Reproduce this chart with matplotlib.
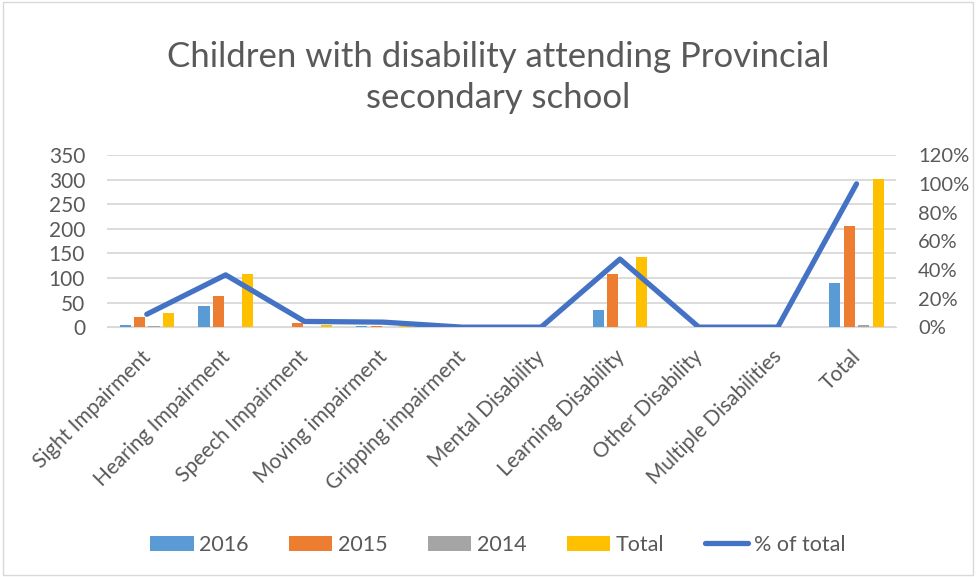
import matplotlib.pyplot as plt
import numpy as np
from matplotlib.patches import Rectangle
from matplotlib.ticker import PercentFormatter
from matplotlib.transforms import ScaledTranslation

plt.rcParams['font.family'] = ['Lato', 'DejaVu Sans']

categories = ['Sight Impairment', 'Hearing Impairment', 'Speech Impairment',
              'Moving impairment', 'Gripping impairment', 'Mental Disability',
              'Learning Disability', 'Other Disability', 'Multiple Disabilities', 'Total']
y2016 = [5, 44, 1, 2, 0, 0, 34, 0, 0, 90]
y2015 = [21, 64, 9, 2, 0, 0, 108, 0, 0, 205]
y2014 = [2, 0, 0, 0, 0, 0, 0, 0, 0, 5]
total = [28, 108, 5, 3, 0, 0, 143, 0, 0, 302]
pct = [0.09, 0.365, 0.04, 0.035, 0.0, 0.0, 0.475, 0.0, 0.0, 1.0]

txt = '#595959'
fig = plt.figure(figsize=(9.76, 5.77), dpi=100)
ax = fig.add_axes([0.110, 0.433, 0.808, 0.298])
ax2 = ax.twinx()

x = np.arange(len(categories))
step = 0.183
w = 0.14
series = [(y2016, '#5B9BD5', '2016'), (y2015, '#ED7D31', '2015'),
          (y2014, '#A5A5A5', '2014'), (total, '#FFC000', 'Total')]
handles = []
for i, (vals, col, lab) in enumerate(series):
    b = ax.bar(x + (i - 1.5) * step, vals, w, color=col, label=lab, zorder=3)
    handles.append(b)

ln, = ax2.plot(x, pct, color='#4472C4', lw=3.8, solid_capstyle='round', label='% of total', zorder=4)
handles.append(ln)

ax.set_xlim(-0.5, len(categories) - 0.5)
ax.set_ylim(0, 350)
ax.set_yticks(range(0, 351, 50))
ax2.set_ylim(0, 1.2)
ax2.set_yticks(np.arange(0, 1.21, 0.2))
ax2.yaxis.set_major_formatter(PercentFormatter(1.0, decimals=0))

ax.grid(axis='y', color='#D9D9D9', lw=1.3, zorder=0)
ax.set_axisbelow(True)
for a in (ax, ax2):
    for s in a.spines.values():
        s.set_visible(False)
    a.tick_params(length=0, labelsize=15, colors=txt)
ax.spines['bottom'].set_visible(True)
ax.spines['bottom'].set_color('#D9D9D9')

ax.set_xticks(x)
ax.set_xticklabels(categories, rotation=45, ha='right', rotation_mode='anchor')
ax.tick_params(axis='x', pad=14)
shift = ScaledTranslation(-6 / 100, 0, fig.dpi_scale_trans)
for lab in ax.get_xticklabels():
    lab.set_transform(lab.get_transform() + shift)
ax.tick_params(axis='y', pad=16)
ax2.tick_params(axis='y', pad=16, labelsize=14.5)

fig.text(0.51, 0.866, 'Children with disability attending Provincial\nsecondary school',
         ha='center', va='center', fontsize=25, color=txt, linespacing=1.35)

leg = fig.legend(handles=handles, loc='lower center', bbox_to_anchor=(0.51, 0.005), ncol=5,
                 frameon=False, fontsize=15.5, handlelength=2.0, handleheight=0.7,
                 columnspacing=1.9, handletextpad=0.25)
for t in leg.get_texts():
    t.set_color(txt)

fig.patches.append(Rectangle((0.003, 0.003), 0.994, 0.994, transform=fig.transFigure,
                             fill=False, ec='#D9D9D9', lw=1))

fig.savefig('out.png', dpi=100)
